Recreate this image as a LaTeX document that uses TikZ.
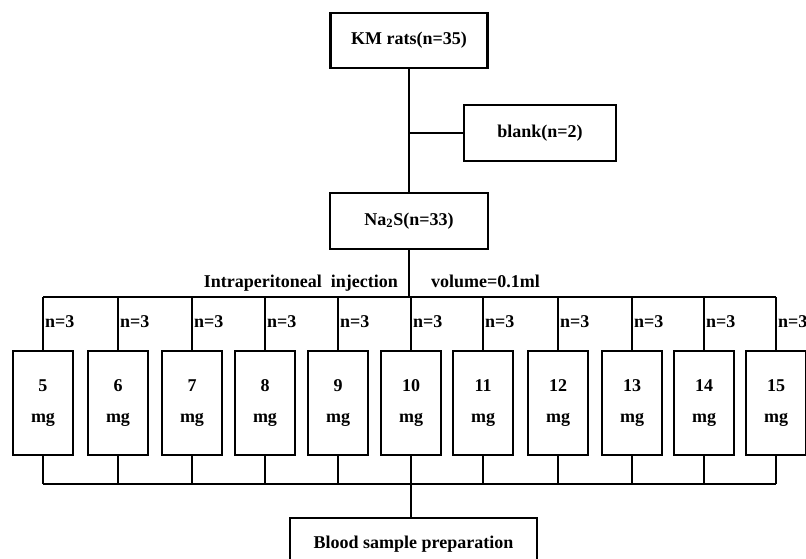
\documentclass[tikz,border=0pt]{standalone}
\usepackage{fontspec}
\setmainfont{Liberation Serif}
\usetikzlibrary{calc}
\begin{document}
\begin{tikzpicture}[x=1pt,y=-1pt,
  every node/.style={font=\bfseries\fontsize{18}{31}\selectfont},
  box/.style={draw, line width=2.4pt, inner sep=0pt, align=center},
  dose/.style={box, minimum width=60pt, minimum height=104pt},
  conn/.style={line width=1.3pt},
  lab/.style={inner sep=0pt}]
\clip (0,0) rectangle (806,558);
\fill[white] (0,0) rectangle (806,558);

\node[box, minimum width=157pt, minimum height=55pt] (km) at (409,40.5) {KM rats(n=35)};
\node[box, minimum width=152pt, minimum height=56pt] (blank) at (540,133) {blank(n=2)};
\node[box, minimum width=158pt, minimum height=56pt] (na) at (409,221) {Na\textsubscript{2}S(n=33)};
\node[box, minimum width=247pt, minimum height=52pt] (blood) at (413.5,544) {Blood sample preparation};

\draw[conn] (km.south) -- (na.north);
\draw[conn] (blank.west) -- (blank.west -| km.south);

\coordinate (tbus) at (409,297);
\coordinate (bbus) at (409,484);

\node[lab, anchor=base east] (ip) at (398,287) {Intraperitoneal\ \ injection};
\node[lab, anchor=base west] (vol) at (431,287) {volume=0.1ml};

\foreach \i/\x in {5/43,6/118,7/192,8/265,9/338,10/411,11/483,12/558,13/632,14/704,15/776}{
  \node[dose] (d\i) at (\x,403) {\i\\mg};
  \draw[conn] (tbus -| d\i.north) -- (d\i.north);
  \draw[conn] (d\i.south) -- (bbus -| d\i.south);
  \node[lab, anchor=base west] (n\i) at ($(d\i.north)+(2,-22)$) {n=3};
}
\draw[conn] (tbus -| d5.north) -- (tbus -| d15.north);
\draw[conn] (bbus -| d5.south) -- (bbus -| d15.south);
\draw[conn] (na.south) -- (tbus -| na.south);
\draw[conn] (bbus -| d10.south) -- (blood.north -| d10.south);
\end{tikzpicture}
\end{document}
